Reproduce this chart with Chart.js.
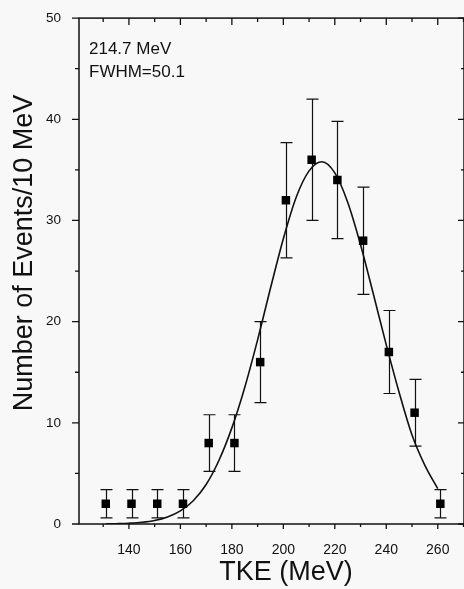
<!DOCTYPE html>
<html>
<head>
<meta charset="utf-8">
<script src="https://cdn.jsdelivr.net/npm/chart.js@4.4.1/dist/chart.umd.min.js"></script>
<style>
  html, body { margin: 0; padding: 0; background: #f8f8f8; overflow: hidden; }
  #wrap { width: 470px; height: 589px; }
</style>
</head>
<body>
<div id="wrap"><canvas id="tke" width="470" height="589"></canvas></div>
<script>
// measured points (TKE bin centre, counts, error)
const tkeBins = [131, 141, 151, 161, 171, 181, 191, 201, 211, 221, 231, 241, 251, 261];
const counts = [2, 2, 2, 2, 8, 8, 16, 32, 36, 34, 28, 17, 11, 2];
const countErr = [1.4, 1.4, 1.4, 1.4, 2.8, 2.8, 4.0, 5.7, 6.0, 5.8, 5.3, 4.1, 3.3, 1.4];

// fitted curve
const fitX = [131, 135, 140, 145, 150, 155, 160, 165, 170, 175, 180, 185, 190, 195, 200, 205, 210, 215, 220, 225, 230, 235, 240, 245, 250, 255, 260];
const fitY = [0.0, 0.03, 0.08, 0.17, 0.35, 0.7, 1.3, 2.3, 3.9, 6.3, 9.5, 13.5, 18.2, 23.3, 28.2, 32.3, 34.9, 35.8, 34.7, 31.8, 27.6, 22.7, 17.7, 13.0, 8.8, 5.8, 3.5];

const xMajor = [140, 160, 180, 200, 220, 240, 260];
const xMinor = [130, 150, 170, 190, 210, 230, 250, 270];
const yMajor = [0, 10, 20, 30, 40, 50];
const yMinor = [5, 15, 25, 35, 45];

const notes = ['214.7 MeV', 'FWHM=50.1'];
const xTitle = 'TKE (MeV)';
const yTitle = 'Number of Events/10 MeV';

const FONT = '"Liberation Sans", Arial, Helvetica, sans-serif';
const INK = '#111';

const framePlugin = {
    id: 'frame',
    beforeDatasetsDraw: function (chart) {
        // error bars under the markers
        const ctx = chart.ctx, xs = chart.scales.x, ys = chart.scales.y;
        ctx.save();
        ctx.strokeStyle = INK;
        ctx.lineWidth = 1.2;
        tkeBins.forEach(function (b, i) {
            const px = Math.round(xs.getPixelForValue(b)) + 0.5;
            const top = ys.getPixelForValue(counts[i] + countErr[i]);
            const bot = ys.getPixelForValue(Math.max(0, counts[i] - countErr[i]));
            ctx.beginPath();
            ctx.moveTo(px, top); ctx.lineTo(px, bot);
            ctx.moveTo(px - 6, top); ctx.lineTo(px + 6, top);
            ctx.moveTo(px - 6, bot); ctx.lineTo(px + 6, bot);
            ctx.stroke();
        });
        ctx.restore();
    },
    afterDraw: function (chart) {
        const ctx = chart.ctx, a = chart.chartArea;
        const xs = chart.scales.x, ys = chart.scales.y;
        ctx.save();
        ctx.strokeStyle = INK;
        ctx.lineWidth = 1.5;
        ctx.strokeRect(a.left, a.top, a.right - a.left, a.bottom - a.top);

        ctx.lineWidth = 1.3;
        ctx.beginPath();
        xMajor.forEach(function (v) {
            const p = xs.getPixelForValue(v);
            ctx.moveTo(p, a.bottom); ctx.lineTo(p, a.bottom + 5);
            ctx.moveTo(p, a.top); ctx.lineTo(p, a.top + 7);
        });
        xMinor.forEach(function (v) {
            const p = xs.getPixelForValue(v);
            ctx.moveTo(p, a.bottom); ctx.lineTo(p, a.bottom + 3);
            ctx.moveTo(p, a.top); ctx.lineTo(p, a.top + 4);
        });
        yMajor.forEach(function (v) {
            const p = ys.getPixelForValue(v);
            ctx.moveTo(a.left, p); ctx.lineTo(a.left - 7, p);
            ctx.moveTo(a.right, p); ctx.lineTo(a.right - 6, p);
        });
        yMinor.forEach(function (v) {
            const p = ys.getPixelForValue(v);
            ctx.moveTo(a.left, p); ctx.lineTo(a.left - 4, p);
            ctx.moveTo(a.right, p); ctx.lineTo(a.right - 3, p);
        });
        ctx.stroke();

        ctx.fillStyle = INK;
        // annotation in the upper left corner
        ctx.font = '17px ' + FONT;
        ctx.textAlign = 'left';
        ctx.textBaseline = 'alphabetic';
        ctx.fillText(notes[0], a.left + 10, a.top + 36);
        ctx.fillText(notes[1], a.left + 10, a.top + 59);

        // axis titles
        ctx.font = '27px ' + FONT;
        ctx.textAlign = 'center';
        ctx.textBaseline = 'middle';
        ctx.fillText(xTitle, 286, 573);
        ctx.translate(25, 253);
        ctx.rotate(-Math.PI / 2);
        ctx.fillText(yTitle, 0, 0);
        ctx.restore();
    }
};

new Chart(document.getElementById('tke'), {
    type: 'scatter',
    data: {
        datasets: [{
            label: 'data',
            data: tkeBins.map(function (b, i) { return { x: b, y: counts[i] }; }),
            pointStyle: 'rect',
            pointRadius: 6,
            pointBorderWidth: 0,
            backgroundColor: '#000',
            borderColor: '#000',
            order: 0
        }, {
            label: 'fit',
            data: fitX.map(function (x, i) { return { x: x, y: fitY[i] }; }),
            showLine: true,
            borderColor: INK,
            borderWidth: 1.6,
            pointRadius: 0,
            tension: 0.4,
            cubicInterpolationMode: 'monotone',
            order: 1
        }]
    },
    options: {
        responsive: false,
        animation: false,
        layout: { padding: { top: 15, right: 4, left: 0, bottom: 0 } },
        plugins: { legend: { display: false }, tooltip: { enabled: false } },
        scales: {
            x: {
                type: 'linear',
                min: 120.6,
                max: 270.2,
                afterFit: function (s) { s.height = 65; },
                grid: { display: false },
                border: { display: false },
                ticks: {
                    stepSize: 20,
                    includeBounds: false,
                    padding: 10,
                    color: INK,
                    font: { family: FONT, size: 14 },
                    callback: function (v) { return xMajor.indexOf(v) >= 0 ? String(v) : ''; }
                }
            },
            y: {
                type: 'linear',
                min: 0,
                max: 50,
                afterFit: function (s) { s.width = 79; },
                grid: { display: false },
                border: { display: false },
                ticks: {
                    stepSize: 10,
                    padding: 10,
                    color: INK,
                    font: { family: FONT, size: 13.5 }
                }
            }
        }
    },
    plugins: [framePlugin]
});
</script>
</body>
</html>
